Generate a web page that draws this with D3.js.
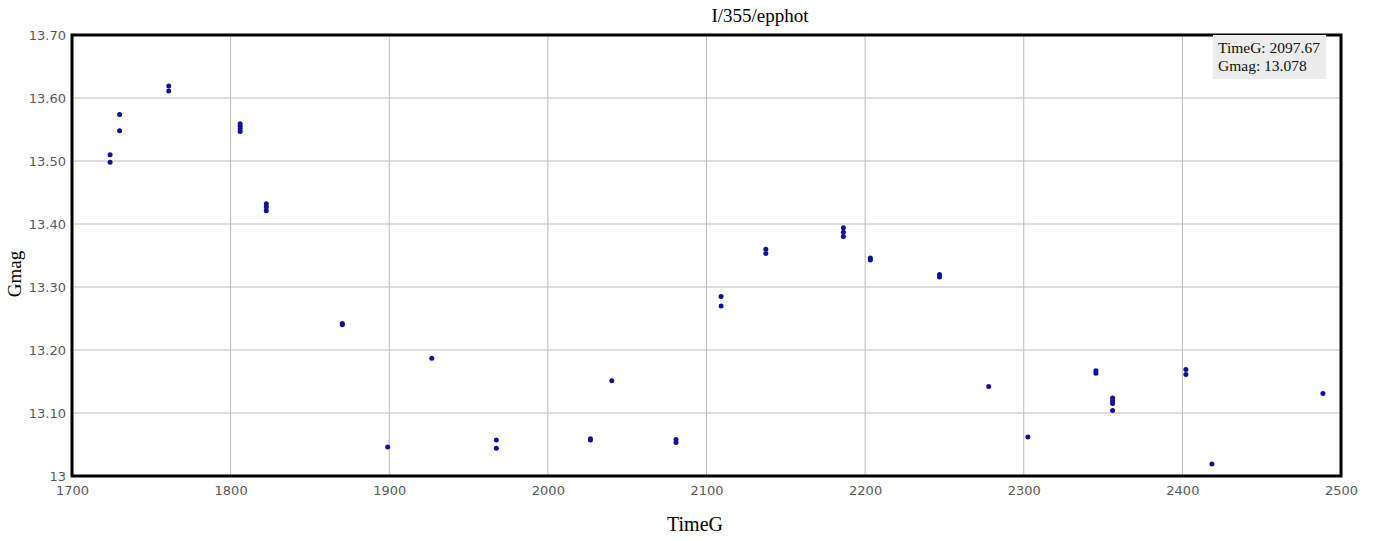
<!DOCTYPE html>
<html>
<head>
<meta charset="utf-8">
<script src="https://cdn.jsdelivr.net/npm/d3@7"></script>
<style>
  body { margin: 0; background: #fff; }
  .tick text { font-family: "DejaVu Sans", Verdana, sans-serif; font-size: 13px; fill: #5a5a5a; }
</style>
</head>
<body>
<div id="chart"></div>
<script>
// Photometry points
const timeG = [1724, 1724, 1730, 1730, 1761, 1761, 1806, 1806, 1806, 1806,
  1822.5, 1822.5, 1822.5, 1870.4, 1870.4, 1899, 1926.8, 1967.5, 1967.5,
  2026.8, 2026.8, 2040.3, 2080.8, 2080.8, 2109.2, 2109.2, 2137.4, 2137.4,
  2186.3, 2186.3, 2186.3, 2203.3, 2203.3, 2246.9, 2246.9, 2277.9, 2302.6,
  2345.5, 2345.5, 2356, 2356, 2356, 2356, 2402.2, 2402.2, 2418.6, 2488.6];
const gmag = [13.510, 13.498, 13.574, 13.548, 13.619, 13.611, 13.559, 13.555, 13.551, 13.547,
  13.432, 13.427, 13.421, 13.242, 13.240, 13.046, 13.187, 13.057, 13.044,
  13.059, 13.057, 13.151, 13.058, 13.053, 13.285, 13.270, 13.360, 13.353,
  13.394, 13.387, 13.380, 13.346, 13.343, 13.320, 13.316, 13.142, 13.062,
  13.167, 13.163, 13.124, 13.119, 13.115, 13.104, 13.169, 13.161, 13.019, 13.131];

const xTicks = [1700, 1800, 1900, 2000, 2100, 2200, 2300, 2400, 2500];
const yTicks = [13, 13.1, 13.2, 13.3, 13.4, 13.5, 13.6, 13.7];
const yTickLabels = ['13', '13.10', '13.20', '13.30', '13.40', '13.50', '13.60', '13.70'];
const hoverText = ['TimeG: 2097.67', 'Gmag: 13.078'];

const W = 1375, H = 541;
const margin = {top: 35, right: 34, bottom: 65, left: 72};
const width = W - margin.left - margin.right;
const height = H - margin.top - margin.bottom;
const serif = '"Liberation Serif", "Times New Roman", serif';

const svg = d3.select('#chart').append('svg')
  .attr('width', W)
  .attr('height', H);

const g = svg.append('g')
  .attr('transform', `translate(${margin.left},${margin.top})`);

const x = d3.scaleLinear().domain([1700, 2500]).range([0, width]);
const y = d3.scaleLinear().domain([13, 13.7]).range([height, 0]);

// grid lines
g.append('g')
  .selectAll('line')
  .data(xTicks)
  .enter().append('line')
  .attr('x1', d => x(d)).attr('x2', d => x(d))
  .attr('y1', 0).attr('y2', height)
  .attr('stroke', '#bbb').attr('stroke-width', 1);

g.append('g')
  .selectAll('line')
  .data(yTicks)
  .enter().append('line')
  .attr('y1', d => y(d)).attr('y2', d => y(d))
  .attr('x1', 0).attr('x2', width)
  .attr('stroke', '#bbb').attr('stroke-width', 1);

// axes (labels only, the frame is drawn separately)
const xAxis = g.append('g')
  .attr('transform', `translate(0,${height})`)
  .call(d3.axisBottom(x).tickValues(xTicks).tickSize(0).tickPadding(10).tickFormat(d3.format('d')));
xAxis.select('.domain').remove();

const yAxis = g.append('g')
  .call(d3.axisLeft(y).tickValues(yTicks).tickSize(0).tickPadding(6)
    .tickFormat((d, i) => yTickLabels[i]));
yAxis.select('.domain').remove();

// points
g.selectAll('.pt')
  .data(timeG.map((t, i) => ({t: t, m: gmag[i]})))
  .enter().append('circle')
  .attr('class', 'pt')
  .attr('cx', d => x(d.t))
  .attr('cy', d => y(d.m))
  .attr('r', 2.5)
  .attr('fill', '#10109a');

// frame
g.append('rect')
  .attr('width', width).attr('height', height)
  .attr('fill', 'none')
  .attr('stroke', '#000').attr('stroke-width', 3);

// hover readout box
const box = g.append('g').attr('transform', `translate(${width - 128},0)`);
box.append('rect')
  .attr('width', 113).attr('height', 44)
  .attr('fill', '#ececec');
box.selectAll('text')
  .data(hoverText)
  .enter().append('text')
  .attr('x', 5)
  .attr('y', (d, i) => 18 + i * 18)
  .style('font-family', serif)
  .style('font-size', '15.5px')
  .style('fill', '#111')
  .text(d => d);

// title
svg.append('text')
  .attr('x', 760).attr('y', 22)
  .attr('text-anchor', 'middle')
  .style('font-family', serif)
  .style('font-size', '19px')
  .text('I/355/epphot');

// axis titles
svg.append('text')
  .attr('x', 695).attr('y', 531)
  .attr('text-anchor', 'middle')
  .style('font-family', serif)
  .style('font-size', '20px')
  .text('TimeG');

svg.append('text')
  .attr('transform', 'translate(21,274) rotate(-90)')
  .attr('text-anchor', 'middle')
  .style('font-family', serif)
  .style('font-size', '19px')
  .text('Gmag');
</script>
</body>
</html>
